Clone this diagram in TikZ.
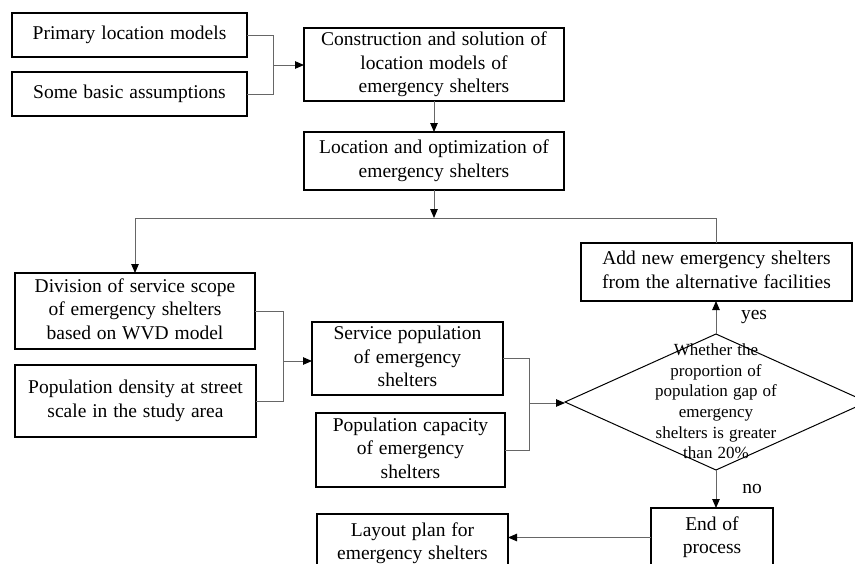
\documentclass[tikz,border=0pt]{standalone}
\usepackage{fontspec}
\setmainfont{Liberation Serif}[WordSpace={1.2}]
\usetikzlibrary{arrows.meta,shapes.geometric}
\newcommand\mltext[1]{\begin{tabular}{@{}c@{}}#1\end{tabular}}
\begin{document}
\begin{tikzpicture}[x=1pt,y=-1pt,
  box/.style={draw=black,line width=1.2pt,inner sep=0pt,outer sep=0pt,
    font=\fontsize{19.5}{23.5}\selectfont},
  conn/.style={draw=black!60,line width=0.9pt},
  arr/.style={conn,-{Triangle[length=9pt,width=7.5pt,black]}},
  lbl/.style={font=\fontsize{19.5}{23.5}\selectfont,inner sep=0pt}]
\clip (0,0) rectangle (855,563);
\fill[white] (0,0) rectangle (855,563);

\node[box,minimum width=235,minimum height=44] (prim) at (129.5,35) {\mltext{Primary location models}};
\node[box,minimum width=235,minimum height=44] (some) at (129.5,94) {\mltext{Some basic assumptions}};
\node[box,minimum width=260,minimum height=73] (cons) at (434,64.5) {\mltext{Construction and solution of\\location models of\\emergency shelters}};
\node[box,minimum width=260,minimum height=58] (loc) at (434,161) {\mltext{Location and optimization of\\emergency shelters}};
\node[box,minimum width=271,minimum height=58] (add) at (716.5,272) {\mltext{Add new emergency shelters\\from the alternative facilities}};
\node[box,minimum width=240,minimum height=76] (div) at (135,311) {\mltext{Division of service scope\\of emergency shelters\\based on WVD model}};
\node[box,minimum width=241,minimum height=72] (pop) at (135.5,401) {\mltext{Population density at street\\scale in the study area}};
\node[box,minimum width=191,minimum height=73] (serv) at (407.5,358.5) {\mltext{Service population\\of emergency\\shelters}};
\node[box,minimum width=189,minimum height=74] (cap) at (410.5,450) {\mltext{Population capacity\\of emergency\\shelters}};
\node[draw=black,line width=1pt,shape=diamond,inner sep=0pt,outer sep=0pt,
  minimum width=302,minimum height=136] (dia) at (716,402) {};
\node[inner sep=0pt,font=\fontsize{17}{20.6}\selectfont] (diatext) at (716,403)
  {\mltext{Whether the\\proportion of\\population gap of\\emergency\\shelters is greater\\than 20\%}};
\node[box,minimum width=122,minimum height=59] (endp) at (712,537.5) {\mltext{End of\\process}};
\node[box,minimum width=191,minimum height=59] (lay) at (412.5,543.5) {\mltext{Layout plan for\\emergency shelters}};

\node[lbl] (yes) at (754,317) {yes};
\node[lbl] (no) at (752,489) {no};

\coordinate (j1) at (273,65);
\coordinate (j2) at (434,218);
\coordinate (jl) at (135,218);
\coordinate (jr) at (716.5,218);
\coordinate (j4) at (283,361);
\coordinate (j5) at (529,403);

\draw[conn] (prim.east) -| (j1);
\draw[conn] (some.east) -| (j1);
\draw[arr] (j1) -- (j1 -| cons.west);
\draw[arr] (cons.south) -- (loc.north);
\draw[conn] (add.north) -- (jr) -- (jl);
\draw[arr] (loc.south) -- (j2);
\draw[arr] (jl) -- (div.north);
\draw[conn] (div.east) -| (j4);
\draw[conn] (pop.east) -| (j4);
\draw[arr] (j4) -- (j4 -| serv.west);
\draw[conn] (serv.east) -| (j5);
\draw[conn] (cap.east) -| (j5);
\draw[arr] (j5) -- (j5 -| dia.west);
\draw[arr] (dia.north) -- (dia.north |- add.south);
\draw[arr] (dia.south) -- (dia.south |- endp.north);
\draw[arr] (endp.west) -- (endp.west -| lay.east);
\end{tikzpicture}
\end{document}
